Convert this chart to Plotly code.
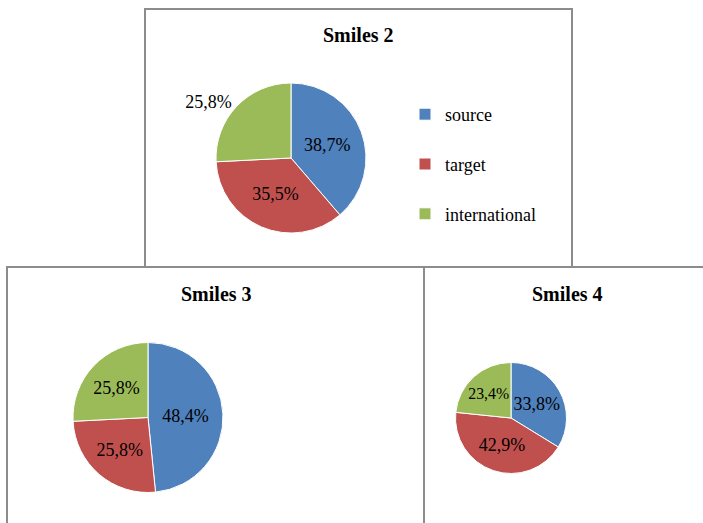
import plotly.graph_objects as go

W, H = 703, 523

categories = ["source", "target", "international"]
titles = ["Smiles 2", "Smiles 3", "Smiles 4"]
smiles2 = [38.7, 35.5, 25.8]
smiles3 = [48.4, 25.8, 25.8]
smiles4 = [33.8, 42.9, 23.4]
colors = ["#4F81BD", "#C0504D", "#9BBB59"]

FONT = "Liberation Serif, Times New Roman, serif"


def px_x(x):
    return x / W


def px_y(y):
    return 1 - y / H


def domain(cx, cy, r):
    return dict(x=[px_x(cx - r), px_x(cx + r)], y=[px_y(cy + r), px_y(cy - r)])


legend_labels = [c + "<br>&nbsp;" for c in categories]

fig = go.Figure()

specs = [
    (smiles2, domain(291, 158, 75), "legend", ["inside", "inside", "outside"]),
    (smiles3, domain(148, 417.5, 75), "legend2", ["inside", "inside", "inside"]),
    (smiles4, domain(511, 418, 55.5), "legend3", ["inside", "inside", "inside"]),
]

for vals, dom, leg, tpos in specs:
    fig.add_trace(go.Pie(
        labels=legend_labels,
        values=vals,
        sort=False,
        direction="clockwise",
        rotation=0,
        domain=dom,
        marker=dict(colors=colors, line=dict(color="white", width=1)),
        texttemplate="%{value:.1f}%",
        textposition=tpos,
        insidetextorientation="horizontal",
        textfont=dict(family=FONT, size=18, color="black"),
        hoverinfo="skip",
        legend=leg,
        showlegend=True,
    ))

leg_common = dict(
    font=dict(family=FONT, size=18, color="black"),
    bgcolor="rgba(0,0,0,0)",
    borderwidth=0,
    valign="top",
    xanchor="left",
    yanchor="top",
    orientation="v",
)

shapes = []
line = dict(color="#8C8C8C", width=2)
for x0, y0, x1, y1 in [(145, 9, 572, 267), (7, 267, 424, 526), (424, 267, 706, 526)]:
    shapes.append(dict(type="rect", xref="paper", yref="paper",
                       x0=px_x(x0), x1=px_x(x1), y0=px_y(y1), y1=px_y(y0),
                       line=line, fillcolor="rgba(0,0,0,0)", layer="above"))

annotations = []
for t, (x, y) in zip(titles, [(358, 35), (216, 294), (567, 294)]):
    annotations.append(dict(text="<b>" + t + "</b>", x=px_x(x), y=px_y(y),
                            xref="paper", yref="paper", showarrow=False,
                            xanchor="center", yanchor="middle",
                            font=dict(family=FONT, size=20, color="black")))

fig.update_layout(
    width=W, height=H,
    margin=dict(l=0, r=0, t=0, b=0, autoexpand=False),
    paper_bgcolor="white",
    plot_bgcolor="white",
    separators=",.",
    legend=dict(x=px_x(405), y=px_y(96), **leg_common),
    legend2=dict(x=px_x(261), y=px_y(356), **leg_common),
    legend3=dict(x=px_x(575), y=px_y(356), **leg_common),
    shapes=shapes,
    annotations=annotations,
)

fig.write_html("out.html")
